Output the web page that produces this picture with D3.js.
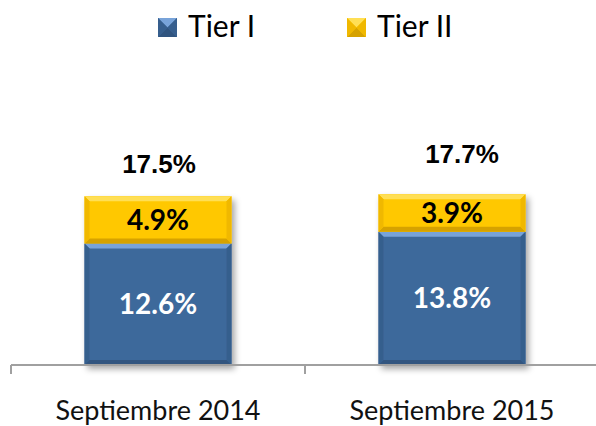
<!DOCTYPE html>
<html>
<head>
<meta charset="utf-8">
<script src="https://cdn.jsdelivr.net/npm/d3@7"></script>
<style>
  html, body { margin: 0; padding: 0; background: #fff; }
  svg { display: block; }
</style>
</head>
<body>
<svg id="chart" width="596" height="426"></svg>
<script>
// Capital ratio composition, September 2014 vs September 2015
const categories = ["Septiembre 2014", "Septiembre 2015"];
const tierI = [12.6, 13.8];
const tierII = [4.9, 3.9];
const totals = [17.5, 17.7];
const seriesNames = ["Tier I", "Tier II"];

const W = 596, H = 426;
const svg = d3.select("#chart");

const palette = {
  "Tier I":  { base: "#3E699B", top: "#78A3D9", side: "#365E8D", bottom: "#30547F" },
  "Tier II": { base: "#FFC800", top: "#FFDF55", side: "#F0B800", bottom: "#D6A200" }
};

const x = d3.scaleBand().domain(categories).range([11, 599])
  .paddingInner(0.5).paddingOuter(0.25);
const y = d3.scaleLinear().domain([0, 20]).range([365, 172]);

const defs = svg.append("defs");
const shadow = defs.append("filter").attr("id", "shadow")
  .attr("x", "-20%").attr("y", "-20%").attr("width", "140%").attr("height", "140%");
shadow.append("feDropShadow").attr("dx", 3).attr("dy", 4)
  .attr("stdDeviation", 3).attr("flood-color", "#000").attr("flood-opacity", 0.35);

// Beveled block: flat face plus four sloped edges
function bevelRect(g, x0, y0, w, h, c, b) {
  const x1 = x0 + w, y1 = y0 + h;
  g.append("rect").attr("x", x0).attr("y", y0).attr("width", w).attr("height", h).attr("fill", c.base);
  g.append("polygon").attr("points", [[x0, y0], [x1, y0], [x1 - b, y0 + b], [x0 + b, y0 + b]].join(" ")).attr("fill", c.top);
  g.append("polygon").attr("points", [[x0, y1], [x1, y1], [x1 - b, y1 - b], [x0 + b, y1 - b]].join(" ")).attr("fill", c.bottom);
  g.append("polygon").attr("points", [[x0, y0], [x0 + b, y0 + b], [x0 + b, y1 - b], [x0, y1]].join(" ")).attr("fill", c.side);
  g.append("polygon").attr("points", [[x1, y0], [x1 - b, y0 + b], [x1 - b, y1 - b], [x1, y1]].join(" ")).attr("fill", c.side);
}

// Stacked segments
const stackData = categories.map((cat, i) => ({ cat, "Tier I": tierI[i], "Tier II": tierII[i] }));
const stacked = d3.stack().keys(seriesNames)(stackData);

const barsG = svg.append("g").attr("filter", "url(#shadow)");
stacked.forEach(layer => {
  layer.forEach((d, i) => {
    const cat = categories[i];
    const x0 = x(cat), w = x.bandwidth();
    const yTop = y(d[1]), yBot = y(d[0]);
    const g = barsG.append("g");
    bevelRect(g, x0, yTop, w, yBot - yTop, palette[layer.key], 5);
  });
});

// Axis line and category dividers
const axisG = svg.append("g");
axisG.append("line").attr("x1", 11).attr("x2", W).attr("y1", 365).attr("y2", 365)
  .attr("stroke", "#A0A0A0").attr("stroke-width", 2);
const boundaries = categories.map(c => x(c) - x.step() * x.paddingInner() / 2);
axisG.selectAll("line.tick").data(boundaries).enter().append("line")
  .attr("class", "tick")
  .attr("x1", d => d).attr("x2", d => d).attr("y1", 365).attr("y2", 374)
  .attr("stroke", "#A0A0A0").attr("stroke-width", 2);

axisG.selectAll("text.cat").data(categories).enter().append("text")
  .attr("class", "cat")
  .attr("x", d => x(d) + x.bandwidth() / 2)
  .attr("y", 420)
  .attr("text-anchor", "middle")
  .attr("font-family", "Lato, 'DejaVu Sans', sans-serif")
  .attr("font-size", 27)
  .attr("fill", "#111")
  .text(d => d);

// Segment labels
const labelFont = "Lato, 'DejaVu Sans', sans-serif";
stacked.forEach(layer => {
  layer.forEach((d, i) => {
    const cat = categories[i];
    const v = d[1] - d[0];
    svg.append("text")
      .attr("x", x(cat) + x.bandwidth() / 2)
      .attr("y", (y(d[0]) + y(d[1])) / 2)
      .attr("dy", "0.36em")
      .attr("text-anchor", "middle")
      .attr("font-family", labelFont)
      .attr("font-weight", "bold")
      .attr("font-size", 28)
      .attr("fill", layer.key === "Tier I" ? "#fff" : "#000")
      .text(v.toFixed(1) + "%");
  });
});

// Totals above each stack
const totalNudge = [[1, 0], [10, -9]];
svg.selectAll("text.total").data(totals).enter().append("text")
  .attr("class", "total")
  .attr("x", (d, i) => x(categories[i]) + x.bandwidth() / 2 + totalNudge[i][0])
  .attr("y", (d, i) => y(d) - 32 + totalNudge[i][1])
  .attr("dy", "0.36em")
  .attr("text-anchor", "middle")
  .attr("font-family", "'Liberation Sans', Arial, sans-serif")
  .attr("font-weight", "bold")
  .attr("font-size", 26)
  .attr("fill", "#000")
  .text(d => d.toFixed(1) + "%");

// Legend
const legendX = [158, 347];
const legend = svg.append("g");
seriesNames.forEach((name, i) => {
  const g = legend.append("g");
  const c = palette[name];
  const s = 19, lx = legendX[i], ly = 18;
  g.append("rect").attr("x", lx).attr("y", ly).attr("width", s).attr("height", s).attr("fill", c.base);
  g.append("polygon").attr("points", [[lx, ly], [lx + s, ly], [lx + s / 2, ly + s / 2]].join(" ")).attr("fill", c.top);
  g.append("polygon").attr("points", [[lx, ly + s], [lx + s, ly + s], [lx + s / 2, ly + s / 2]].join(" ")).attr("fill", c.bottom);
  g.append("polygon").attr("points", [[lx, ly], [lx, ly + s], [lx + s / 2, ly + s / 2]].join(" ")).attr("fill", c.side);
  g.append("polygon").attr("points", [[lx + s, ly], [lx + s, ly + s], [lx + s / 2, ly + s / 2]].join(" ")).attr("fill", c.side);
  g.append("text").attr("x", lx + 30).attr("y", ly + 19)
    .attr("font-family", "Lato, 'DejaVu Sans', sans-serif")
    .attr("font-size", 30)
    .attr("fill", "#000")
    .text(name);
});
</script>
</body>
</html>
